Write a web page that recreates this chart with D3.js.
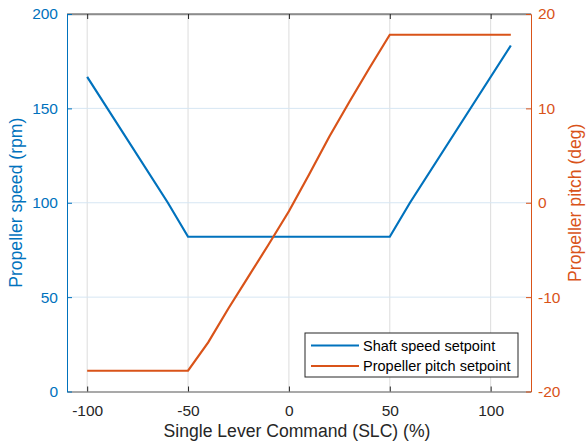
<!DOCTYPE html>
<html>
<head>
<meta charset="utf-8">
<script src="https://cdn.jsdelivr.net/npm/d3@7"></script>
<style>
  body { margin: 0; background: #fff; }
  text { font-family: "Liberation Sans", Arial, sans-serif; }
</style>
</head>
<body>
<svg id="chart" width="586" height="447"></svg>
<script>
// data
const slc = [-100, -60, -50, 50, 60, 110]
const shaftSpeed = [166.7, 100, 82, 82, 100, 183.3]

const slcPitch = [-100, -50, -40, -30, -20, -10, 0, 10, 20, 30, 40, 50, 110]
const pitch = [-17.8, -17.8, -14.8, -11.2, -7.8, -4.4, -0.9, 3.0, 7.0, 10.7, 14.3, 17.8, 17.8]

const xTicks = [-100, -50, 0, 50, 100]
const leftTicks = [0, 50, 100, 150, 200]
const rightTicks = [-20, -10, 0, 10, 20]

const blue = "#0072BD", orange = "#D95319"

let svg = d3.select("#chart")
let margin = { top: 14, right: 55, bottom: 56, left: 67 }
let width = 586, height = 447

let x = d3.scaleLinear().domain([-110, 120]).range([margin.left, width - margin.right])
let yL = d3.scaleLinear().domain([0, 200]).range([height - margin.bottom + 0.5, margin.top])
let yR = d3.scaleLinear().domain([-20, 20]).range([height - margin.bottom + 0.5, margin.top])

let x0 = margin.left, x1 = width - margin.right
let y0 = yL(0), y1 = yL(200)

// grid
svg.append("g").selectAll("line").data(xTicks).join("line")
  .attr("x1", d => x(d)).attr("x2", d => x(d))
  .attr("y1", y0).attr("y2", y1)
  .style("stroke", "#dcdcdc").style("stroke-width", 1)
svg.append("g").selectAll("line").data(leftTicks.slice(1, -1)).join("line")
  .attr("x1", x0).attr("x2", x1)
  .attr("y1", d => yL(d)).attr("y2", d => yL(d))
  .style("stroke", "#d6e6f3").style("stroke-width", 1)

// box top / bottom
svg.append("line").attr("x1", x0).attr("x2", x1).attr("y1", y1).attr("y2", y1)
  .style("stroke", "#8c8c8c").style("stroke-width", 1.5)

// axes
let xAxis = svg.append("g").attr("transform", `translate(0,${y0})`)
  .call(d3.axisBottom(x).tickValues(xTicks).tickSizeInner(-5).tickSizeOuter(0).tickPadding(13))
let xTop = svg.append("g").attr("transform", `translate(0,${y1})`)
  .call(d3.axisTop(x).tickValues(xTicks).tickSizeInner(-5).tickSizeOuter(0).tickFormat(""))
;[xAxis, xTop].forEach(g => {
  g.select(".domain").style("stroke", "#8c8c8c").style("stroke-width", 1.5)
  g.selectAll(".tick line").style("stroke", "#262626")
})
xAxis.selectAll("text").style("font-size", "15.5px").style("fill", "#262626")
  .text(d => d < 0 ? "-" + (-d) : d)

let leftAxis = svg.append("g").attr("transform", `translate(${x0},0)`)
  .call(d3.axisLeft(yL).tickValues(leftTicks).tickSizeInner(-5).tickSizeOuter(0).tickPadding(9))
leftAxis.select(".domain").style("stroke", blue)
leftAxis.selectAll(".tick line").style("stroke", blue)
leftAxis.selectAll("text").style("font-size", "15.5px").style("fill", blue)

let rightAxis = svg.append("g").attr("transform", `translate(${x1},0)`)
  .call(d3.axisRight(yR).tickValues(rightTicks).tickSizeInner(-5).tickSizeOuter(0).tickPadding(7))
rightAxis.select(".domain").style("stroke", orange)
rightAxis.selectAll(".tick line").style("stroke", orange)
rightAxis.selectAll("text").style("font-size", "15.5px").style("fill", orange)
  .text(d => d < 0 ? "-" + (-d) : d)

// lines
let speedLine = d3.line().x((d, i) => x(slc[i])).y(d => yL(d))
let pitchLine = d3.line().x((d, i) => x(slcPitch[i])).y(d => yR(d))

svg.append("path").attr("d", speedLine(shaftSpeed))
  .style("fill", "none").style("stroke", blue).style("stroke-width", 2.2)
svg.append("path").attr("d", pitchLine(pitch))
  .style("fill", "none").style("stroke", orange).style("stroke-width", 2.2)

// axis titles
svg.append("text").attr("text-anchor", "middle")
  .attr("x", 297).attr("y", 437)
  .style("font-size", "17.6px").style("fill", "#262626")
  .text("Single Lever Command (SLC) (%)")
svg.append("text").attr("text-anchor", "middle")
  .attr("transform", `translate(22,${(y0 + y1) / 2}) rotate(-90)`)
  .style("font-size", "17.6px").style("fill", blue)
  .text("Propeller speed (rpm)")
svg.append("text").attr("text-anchor", "middle")
  .attr("transform", `translate(581,${(y0 + y1) / 2}) rotate(-90)`)
  .style("font-size", "17.6px").style("fill", orange)
  .text("Propeller pitch (deg)")

// legend
let legend = svg.append("g").attr("transform", "translate(305,333)")
legend.append("rect").attr("width", 213).attr("height", 44)
  .style("fill", "#fff").style("stroke", "#262626").style("stroke-width", 1)
let items = [["Shaft speed setpoint", blue], ["Propeller pitch setpoint", orange]]
items.forEach((it, i) => {
  let yy = 12.5 + i * 20.5
  legend.append("line").attr("x1", 6).attr("x2", 54).attr("y1", yy).attr("y2", yy)
    .style("stroke", it[1]).style("stroke-width", 2.2)
  legend.append("text").attr("x", 58).attr("y", yy + 5)
    .style("font-size", "14.5px").style("fill", "#000").text(it[0])
})
</script>
</body>
</html>
